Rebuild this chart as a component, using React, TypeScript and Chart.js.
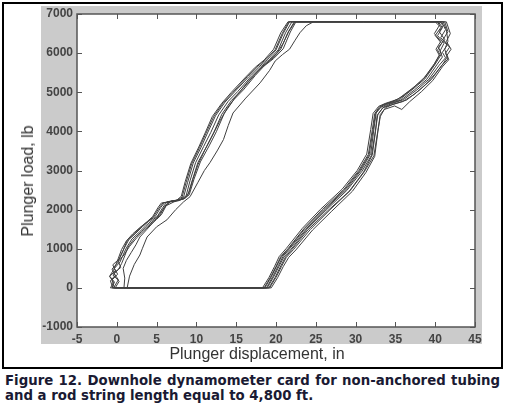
import React, { useEffect, useRef } from "react";
import { Chart, registerables } from "chart.js";

Chart.register(...registerables);

const xTitle = "Plunger displacement, in";
const yTitle = "Plunger load, lb";
const captionText =
  "Figure 12. Downhole dynamometer card for non-anchored tubing and a rod string length equal to 4,800 ft.";

const xMin = -5;
const xMax = 45;
const xStep = 5;
const yMin = -1000;
const yMax = 7000;
const yStep = 1000;

// Each cycle: [displacement in, load lb]
const cycle1: [number, number][] = [
  [-0.5, 0], [-0.8, 180], [-0.2, 320], [-0.6, 480], [0.1, 640], [0.4, 780], [0.9, 1000], [1.5, 1230],
  [2.4, 1400], [3.2, 1560], [4.0, 1700], [4.8, 1816], [5.5, 2050], [6.0, 2180], [7.8, 2230], [8.4, 2330],
  [8.9, 2700], [9.6, 3190], [10.6, 3600], [11.4, 3960], [12.4, 4400], [13.6, 4750], [14.8, 5010],
  [16.6, 5400], [17.8, 5640], [18.9, 5830], [20.0, 6080], [20.9, 6500], [21.7, 6800],
  [31, 6800], [40.4, 6800],
  [40.9, 6650], [40.3, 6450], [41.1, 6250], [40.6, 6050], [40.9, 5900], [40.2, 5700], [38.9, 5320],
  [37.4, 5060], [35.7, 4800], [34.1, 4700], [33.2, 4620], [32.5, 4450], [32.2, 4040], [31.7, 3400],
  [30.5, 2990], [28.6, 2500], [26.0, 2000], [23.6, 1510], [21.6, 1000], [20.7, 800], [20.1, 560],
  [19.4, 280], [18.6, 0],
  [8, 0], [-0.5, 0],
];

const cycle2: [number, number][] = [
  [-0.6, 0], [-0.3, 150], [-0.9, 300], [-0.4, 460], [-0.1, 600], [0.2, 760], [0.6, 980], [1.2, 1200],
  [2.0, 1380], [2.9, 1540], [3.8, 1690], [4.5, 1820], [5.2, 2060], [5.6, 2170], [7.4, 2220], [8.1, 2340],
  [8.6, 2720], [9.3, 3180], [10.3, 3600], [11.1, 3960], [12.0, 4380], [13.2, 4720], [14.4, 5000],
  [16.2, 5390], [17.4, 5640], [18.5, 5820], [19.7, 6100], [20.6, 6520], [21.5, 6800],
  [31, 6800], [40.0, 6800],
  [40.5, 6700], [39.9, 6500], [40.7, 6300], [40.1, 6100], [40.5, 5950], [39.8, 5680], [38.5, 5330],
  [37.0, 5080], [35.3, 4820], [33.8, 4720], [32.9, 4640], [32.2, 4460], [31.9, 4050], [31.4, 3420],
  [30.2, 3000], [28.3, 2520], [25.6, 2010], [23.3, 1520], [21.3, 1010], [20.4, 800], [19.8, 540],
  [19.1, 260], [18.3, 0],
  [8, 0], [-0.6, 0],
];

const cycle3: [number, number][] = [
  [-0.3, 0], [-0.6, 200], [0.1, 350], [-0.3, 500], [0.4, 660], [0.7, 800], [1.2, 1020], [1.9, 1250],
  [2.8, 1420], [3.6, 1580], [4.4, 1720], [5.1, 1830], [5.8, 2060], [6.3, 2200], [8.0, 2250], [8.7, 2350],
  [9.2, 2740], [9.9, 3200], [10.9, 3610], [11.8, 3970], [12.8, 4420], [14.0, 4770], [15.2, 5020],
  [16.9, 5410], [18.1, 5650], [19.2, 5840], [20.3, 6090], [21.2, 6520], [22.0, 6800],
  [31, 6800], [40.8, 6800],
  [41.3, 6600], [40.7, 6400], [41.5, 6200], [40.9, 6020], [41.3, 5880], [40.5, 5690], [39.2, 5330],
  [37.7, 5060], [36.0, 4810], [34.4, 4700], [33.5, 4620], [32.8, 4440], [32.5, 4030], [32.0, 3390],
  [30.8, 2980], [28.9, 2490], [26.3, 1990], [23.9, 1500], [21.9, 990], [21.0, 790], [20.4, 560],
  [19.7, 280], [18.9, 0],
  [8, 0], [-0.3, 0],
];

const cycle4: [number, number][] = [
  [-0.2, 0], [0.3, 170], [-0.5, 330], [0.2, 470], [0.6, 620], [1.0, 820], [1.4, 1040], [2.2, 1260],
  [3.1, 1440], [3.9, 1590], [4.7, 1730], [5.4, 1850], [6.0, 2080], [6.6, 2210], [8.2, 2260], [8.9, 2360],
  [9.5, 2760], [10.2, 3210], [11.3, 3620], [12.2, 3980], [13.2, 4440], [14.4, 4790], [15.6, 5040],
  [17.2, 5420], [18.3, 5660], [19.5, 5850], [20.6, 6100], [21.5, 6530], [22.3, 6800],
  [31, 6800], [41.2, 6800],
  [41.6, 6550], [41.0, 6350], [41.8, 6150], [41.3, 6000], [41.6, 5850], [40.8, 5680], [39.5, 5320],
  [38.0, 5050], [36.4, 4800], [34.7, 4690], [33.8, 4610], [33.1, 4430], [32.8, 4020], [32.3, 3380],
  [31.1, 2970], [29.3, 2480], [26.7, 1980], [24.3, 1490], [22.2, 980], [21.3, 780], [20.7, 550],
  [20.0, 270], [19.2, 0],
  [8, 0], [-0.2, 0],
];

const cycle5: [number, number][] = [
  [-0.8, 0], [-0.4, 140], [-0.9, 290], [-0.2, 440], [-0.5, 590], [0.3, 740], [0.8, 960], [1.3, 1210],
  [2.2, 1390], [3.0, 1550], [3.9, 1700], [4.6, 1810], [5.3, 2040], [5.8, 2170], [7.6, 2240], [8.2, 2320],
  [8.7, 2690], [9.4, 3170], [10.4, 3590], [11.2, 3950], [12.2, 4390], [13.4, 4740], [14.6, 5000],
  [16.4, 5400], [17.6, 5650], [18.7, 5830], [19.9, 6090], [20.8, 6510], [21.6, 6800],
  [31, 6800], [40.6, 6800],
  [41.0, 6700], [40.5, 6550], [41.2, 6350], [40.4, 6150], [40.8, 5980], [40.0, 5720], [38.7, 5340],
  [37.2, 5080], [35.5, 4810], [34.0, 4710], [33.0, 4630], [32.4, 4450], [32.1, 4040], [31.6, 3410],
  [30.4, 3000], [28.5, 2510], [25.8, 2000], [23.5, 1510], [21.5, 1000], [20.6, 800], [20.0, 550],
  [19.3, 270], [18.5, 0],
  [8, 0], [-0.8, 0],
];

const cycle6: [number, number][] = [
  [-0.4, 0], [0.2, 210], [-0.4, 380], [0.5, 520], [0.2, 680], [0.9, 840], [1.6, 1060], [2.5, 1280],
  [3.4, 1460], [4.2, 1610], [5.0, 1750], [5.6, 1870], [6.2, 2100], [6.8, 2220], [8.4, 2270], [9.1, 2380],
  [9.7, 2780], [10.5, 3220], [11.6, 3630], [12.5, 3990], [13.5, 4460], [14.7, 4810], [15.9, 5060],
  [17.4, 5430], [18.5, 5670], [19.7, 5860], [20.9, 6110], [21.8, 6540], [22.5, 6800],
  [31, 6800], [41.4, 6800],
  [41.9, 6500], [41.4, 6300], [42.0, 6100], [41.5, 5950], [41.7, 5830], [40.9, 5650], [39.7, 5300],
  [38.3, 5020], [36.8, 4760], [35.8, 4560], [34.9, 4650], [33.6, 4560], [33.1, 4380], [32.8, 4000],
  [32.4, 3360], [31.3, 2950], [29.6, 2470], [27.0, 1960], [24.6, 1480], [22.5, 970], [21.6, 780],
  [20.9, 540], [20.2, 260], [19.4, 0],
  [8, 0], [-0.4, 0],
];

const cycle7: [number, number][] = [
  [1.3, 0], [1.6, 300], [2.2, 600], [2.9, 840], [3.2, 1000], [3.8, 1300], [5.0, 1560], [6.3, 1740],
  [7.4, 2000], [8.4, 2200], [9.2, 2330], [10.2, 2700], [11.0, 3000], [11.7, 3200], [12.6, 3500],
  [13.4, 3790], [14.0, 4150], [14.6, 4470], [16.2, 4850], [18.0, 5240], [19.2, 5560], [19.9, 5800],
  [20.8, 5960], [21.7, 6100], [22.4, 6330], [23.0, 6520], [23.8, 6700], [24.7, 6800],
  [31, 6800], [41.0, 6800],
  [41.4, 6600], [41.6, 6300], [41.2, 6100], [41.5, 5900], [40.9, 5700], [39.9, 5450], [38.8, 5200],
  [37.4, 4950], [35.9, 4760], [34.5, 4680], [33.4, 4600], [32.7, 4400], [32.5, 4000], [32.1, 3400],
  [31.0, 2960], [29.2, 2470], [26.5, 1970], [24.0, 1480], [22.0, 980], [21.2, 790], [20.6, 560],
  [19.9, 270], [19.1, 0],
  [8, 0], [1.3, 0],
];

const cycle8: [number, number][] = [
  [0.9, 0], [1.0, 250], [0.8, 500], [1.2, 700], [1.8, 900], [2.4, 1100], [2.9, 1300], [3.8, 1500],
  [4.7, 1700], [5.4, 1900], [6.2, 2100], [7.2, 2200], [8.6, 2290], [9.1, 2450], [9.6, 2800],
  [10.2, 3150], [11.0, 3500], [11.9, 3850], [12.9, 4250], [13.9, 4600], [15.2, 4950], [16.6, 5300],
  [17.8, 5550], [18.9, 5760], [20.1, 6000], [20.9, 6250], [21.6, 6550], [22.4, 6800],
  [31, 6800], [40.3, 6800],
  [40.7, 6650], [40.0, 6450], [40.8, 6250], [40.3, 6080], [40.6, 5960], [39.9, 5730], [38.7, 5390],
  [37.3, 5120], [35.8, 4880], [34.6, 4760], [33.4, 4680], [32.6, 4500], [32.3, 4060], [31.9, 3430],
  [30.7, 3010], [28.9, 2530], [26.3, 2030], [23.9, 1530], [21.8, 1020], [20.9, 810], [20.3, 570],
  [19.6, 290], [18.8, 0],
  [8, 0], [0.9, 0],
];

const cycles = [cycle1, cycle2, cycle3, cycle4, cycle5, cycle6, cycle7, cycle8];

const boxPlugin = {
  id: "matlabBox",
  beforeDraw(chart: any) {
    const { ctx, chartArea: a } = chart;
    ctx.save();
    ctx.fillStyle = "#ffffff";
    ctx.fillRect(a.left, a.top, a.right - a.left, a.bottom - a.top);
    ctx.restore();
  },
  afterDraw(chart: any) {
    const { ctx, chartArea: a, scales } = chart;
    ctx.save();
    ctx.strokeStyle = "#555555";
    ctx.lineWidth = 1;
    const line = (x1: number, y1: number, x2: number, y2: number) => {
      ctx.beginPath();
      ctx.moveTo(x1, y1);
      ctx.lineTo(x2, y2);
      ctx.stroke();
    };
    const tl = 5;
    scales.x.ticks.forEach((t: any) => {
      const px = Math.round(scales.x.getPixelForValue(t.value)) + 0.5;
      line(px, a.bottom, px, a.bottom - tl);
      line(px, a.top, px, a.top + tl);
    });
    scales.y.ticks.forEach((t: any) => {
      const py = Math.round(scales.y.getPixelForValue(t.value)) + 0.5;
      line(a.left, py, a.left + tl, py);
      line(a.right, py, a.right - tl, py);
    });
    ctx.lineWidth = 1.5;
    ctx.strokeRect(a.left, a.top, a.right - a.left, a.bottom - a.top);
    ctx.restore();
  },
};

export default function App() {
  const canvasRef = useRef<HTMLCanvasElement | null>(null);

  useEffect(() => {
    if (!canvasRef.current) return;
    const tickFont = { family: "'Liberation Sans', Arial, sans-serif", size: 12, weight: "bold" as const };
    const chart = new Chart(canvasRef.current, {
      type: "scatter",
      data: {
        datasets: cycles.map((c, i) => ({
          label: `Cycle ${i + 1}`,
          data: c.map(([x, y]) => ({ x, y })),
          showLine: true,
          borderColor: "#404040",
          borderWidth: 1,
          pointRadius: 0,
          pointHoverRadius: 0,
          tension: 0,
          fill: false,
        })),
      },
      options: {
        animation: false,
        responsive: false,
        maintainAspectRatio: false,
        layout: { padding: { top: 14, right: 30, left: 0, bottom: 0 } },
        plugins: {
          legend: { display: false },
          tooltip: { enabled: false },
          title: { display: false },
        },
        scales: {
          x: {
            type: "linear",
            min: xMin,
            max: xMax,
            grid: { display: false, drawTicks: false },
            border: { display: false },
            ticks: {
              stepSize: xStep,
              color: "#444444",
              font: tickFont,
              padding: 5,
              maxRotation: 0,
              callback: (v: any) => String(v),
            },
            afterFit: (scale: any) => {
              scale.height = 23;
            },
          },
          y: {
            type: "linear",
            min: yMin,
            max: yMax,
            grid: { display: false, drawTicks: false },
            border: { display: false },
            ticks: {
              stepSize: yStep,
              color: "#444444",
              font: tickFont,
              padding: 4,
              callback: (v: any) => String(v),
            },
            afterFit: (scale: any) => {
              scale.width = 77;
            },
          },
        },
      },
      plugins: [boxPlugin],
    });
    return () => chart.destroy();
  }, []);

  return (
    <div style={{ position: "absolute", left: 0, top: 0, width: 505, height: 410, background: "#ffffff", overflow: "hidden" }}>
      <div
        style={{
          position: "absolute",
          left: 2,
          top: 2,
          width: 501,
          height: 367,
          boxSizing: "border-box",
          border: "2px solid #000000",
        }}
      />
      <div style={{ position: "absolute", left: 41, top: 6, width: 441, height: 338, background: "#cbcbcb" }} />
      <canvas ref={canvasRef} width={505} height={350} style={{ position: "absolute", left: 0, top: 0, width: 505, height: 350 }} />
      <div
        style={{
          position: "absolute",
          left: 28,
          top: 181,
          transform: "translate(-50%, -50%) rotate(-90deg)",
          whiteSpace: "nowrap",
          font: "16px 'Liberation Sans', Arial, sans-serif",
          color: "#333333",
          lineHeight: "16px",
        }}
      >
        {yTitle}
      </div>
      <div
        style={{
          position: "absolute",
          left: 257,
          top: 346,
          transform: "translateX(-50%)",
          whiteSpace: "nowrap",
          font: "16px 'Liberation Sans', Arial, sans-serif",
          color: "#333333",
          lineHeight: "16px",
        }}
      >
        {xTitle}
      </div>
      <div
        style={{
          position: "absolute",
          left: 5,
          top: 373,
          width: 495,
          font: "bold 13.3px 'DejaVu Sans', sans-serif",
          lineHeight: "15px",
          color: "#1a1a33",
          textAlign: "justify",
          textAlignLast: "left",
        }}
      >
        {captionText}
      </div>
    </div>
  );
}
